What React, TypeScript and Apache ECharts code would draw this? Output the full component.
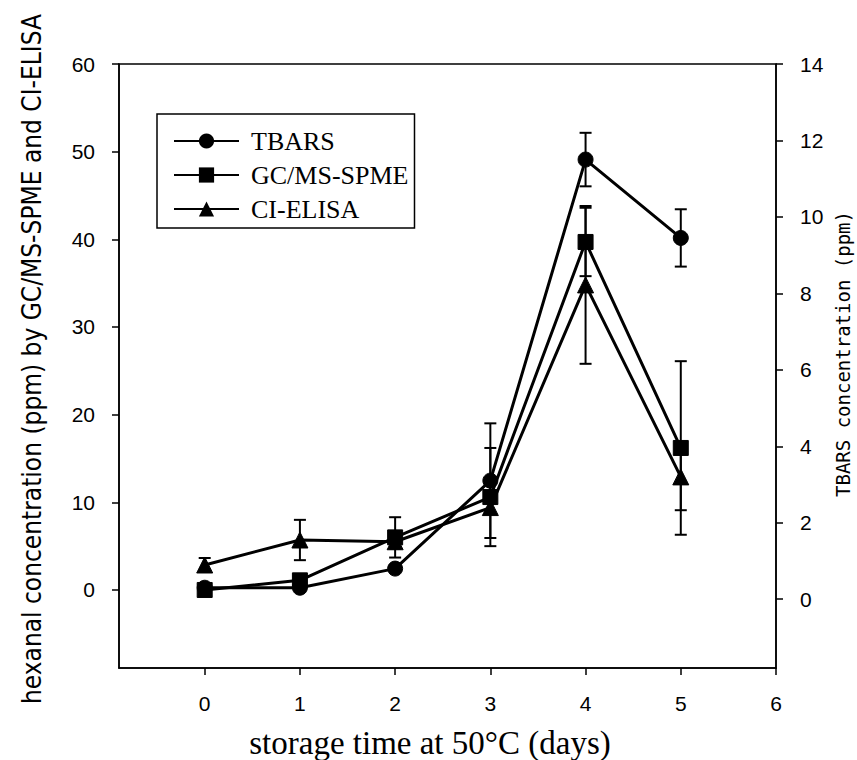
import React, { useEffect, useRef } from "react";
import * as echarts from "echarts";

const days = [0, 1, 2, 3, 4, 5];
const xTicks = [0, 1, 2, 3, 4, 5, 6];
const leftTicks = [0, 10, 20, 30, 40, 50, 60];
const rightTicks = [0, 2, 4, 6, 8, 10, 12, 14];

// TBARS (right axis, ppm)
const tbars = [0.3, 0.3, 0.8, 3.1, 11.5, 9.45];
const tbarsErr = [0, 0, 0, 1.5, 0.7, 0.75];
// GC/MS-SPME (left axis, ppm)
const gcms = [0, 1.1, 6.0, 10.6, 39.7, 16.2];
const gcmsErr = [0, 0, 2.3, 5.6, 3.9, 9.9];
// CI-ELISA (left axis, ppm)
const elisa = [2.85, 5.7, 5.5, 9.4, 34.8, 12.9];
const elisaErr = [0.8, 2.3, 0.8, 0, 9.0, 3.8];

const BLACK = "#000";

function errSeries(vals: number[], errs: number[], yAxisIndex: number) {
  const data = days
    .map((d, i) => [d, vals[i] - errs[i], vals[i] + errs[i], errs[i]])
    .filter((r) => r[3] > 0);
  return {
    type: "custom",
    yAxisIndex,
    silent: true,
    z: 1,
    data,
    encode: { x: 0, y: [1, 2] },
    renderItem: (params: any, api: any) => {
      const x = api.value(0);
      const lo = api.coord([x, api.value(1)]);
      const hi = api.coord([x, api.value(2)]);
      const w = 6;
      const st = { stroke: BLACK, lineWidth: 2 };
      return {
        type: "group",
        children: [
          { type: "line", shape: { x1: lo[0], y1: lo[1], x2: hi[0], y2: hi[1] }, style: st },
          { type: "line", shape: { x1: lo[0] - w, y1: lo[1], x2: lo[0] + w, y2: lo[1] }, style: st },
          { type: "line", shape: { x1: hi[0] - w, y1: hi[1], x2: hi[0] + w, y2: hi[1] }, style: st },
        ],
      };
    },
  };
}

function lineSeries(name: string, vals: number[], symbol: string, size: number, yAxisIndex: number) {
  return {
    name,
    type: "line",
    yAxisIndex,
    data: days.map((d, i) => [d, vals[i]]),
    symbol,
    symbolSize: size,
    showAllSymbol: true,
    z: 3,
    lineStyle: { color: BLACK, width: 3 },
    itemStyle: { color: BLACK, borderColor: BLACK },
  };
}

export default function App() {
  const ref = useRef<HTMLDivElement>(null);
  useEffect(() => {
    const chart = echarts.init(ref.current!, null, { renderer: "svg" });
    const tickFont = { fontFamily: "Liberation Sans", fontSize: 21, color: BLACK };
    chart.setOption({
      animation: false,
      backgroundColor: "#fff",
      grid: {
        left: 119,
        right: 81,
        top: 64,
        bottom: 92,
        show: true,
        borderColor: BLACK,
        borderWidth: 1.5,
      },
      legend: {
        data: ["TBARS", "GC/MS-SPME", "CI-ELISA"],
        orient: "vertical",
        left: 157,
        top: 114,
        itemWidth: 65,
        itemHeight: 19,
        itemGap: 8,
        padding: [14, 6, 6, 16],
        borderColor: BLACK,
        borderWidth: 1.5,
        textStyle: { fontFamily: "Liberation Serif", fontSize: 26, color: BLACK, padding: [0, 0, 0, 7] },
      },
      xAxis: {
        type: "value",
        min: -0.9,
        max: 6,
        axisLine: { show: true, onZero: false, lineStyle: { color: BLACK, width: 1.5 } },
        axisTick: { show: true, length: 7, customValues: xTicks, lineStyle: { color: BLACK, width: 1.5 } },
        axisLabel: { ...tickFont, margin: 25, customValues: xTicks },
        splitLine: { show: false },
      },
      yAxis: [
        {
          type: "value",
          min: -8.9,
          max: 60,
          position: "left",
          axisLine: { show: true, onZero: false, lineStyle: { color: BLACK, width: 1.5 } },
          axisTick: { show: true, length: 7, customValues: leftTicks, lineStyle: { color: BLACK, width: 1.5 } },
          axisLabel: { ...tickFont, margin: 24, customValues: leftTicks },
          splitLine: { show: false },
        },
        {
          type: "value",
          min: -1.8,
          max: 14,
          position: "right",
          axisLine: { show: true, onZero: false, lineStyle: { color: BLACK, width: 1.5 } },
          axisTick: { show: true, length: 7, customValues: rightTicks, lineStyle: { color: BLACK, width: 1.5 } },
          axisLabel: { ...tickFont, margin: 24, customValues: rightTicks },
          splitLine: { show: false },
        },
      ],
      graphic: [
        {
          type: "text",
          x: 430,
          y: 743,
          style: {
            text: "storage time at 50°C (days)",
            fontFamily: "Liberation Serif",
            fontSize: 33,
            fill: BLACK,
            align: "center",
            verticalAlign: "middle",
          },
        },
        {
          type: "text",
          x: 32,
          y: 359,
          rotation: Math.PI / 2,
          style: {
            text: "hexanal concentration (ppm) by GC/MS-SPME and CI-ELISA",
            fontFamily: "DejaVu Sans Condensed, DejaVu Sans",
            fontSize: 26,
            fill: BLACK,
            align: "center",
            verticalAlign: "middle",
          },
        },
        {
          type: "text",
          x: 843,
          y: 354,
          rotation: Math.PI / 2,
          style: {
            text: "TBARS concentration (ppm)",
            fontFamily: "DejaVu Sans Mono",
            fontSize: 19,
            fill: BLACK,
            align: "center",
            verticalAlign: "middle",
          },
        },
      ],
      series: [
        errSeries(tbars, tbarsErr, 1),
        errSeries(gcms, gcmsErr, 0),
        errSeries(elisa, elisaErr, 0),
        lineSeries("TBARS", tbars, "circle", 15, 1),
        lineSeries("GC/MS-SPME", gcms, "rect", 15, 0),
        lineSeries("CI-ELISA", elisa, "triangle", 16, 0),
      ],
    });
    return () => chart.dispose();
  }, []);
  return (
    <div
      ref={ref}
      style={{ width: 857, height: 760, position: "absolute", left: 0, top: 0 }}
    />
  );
}
